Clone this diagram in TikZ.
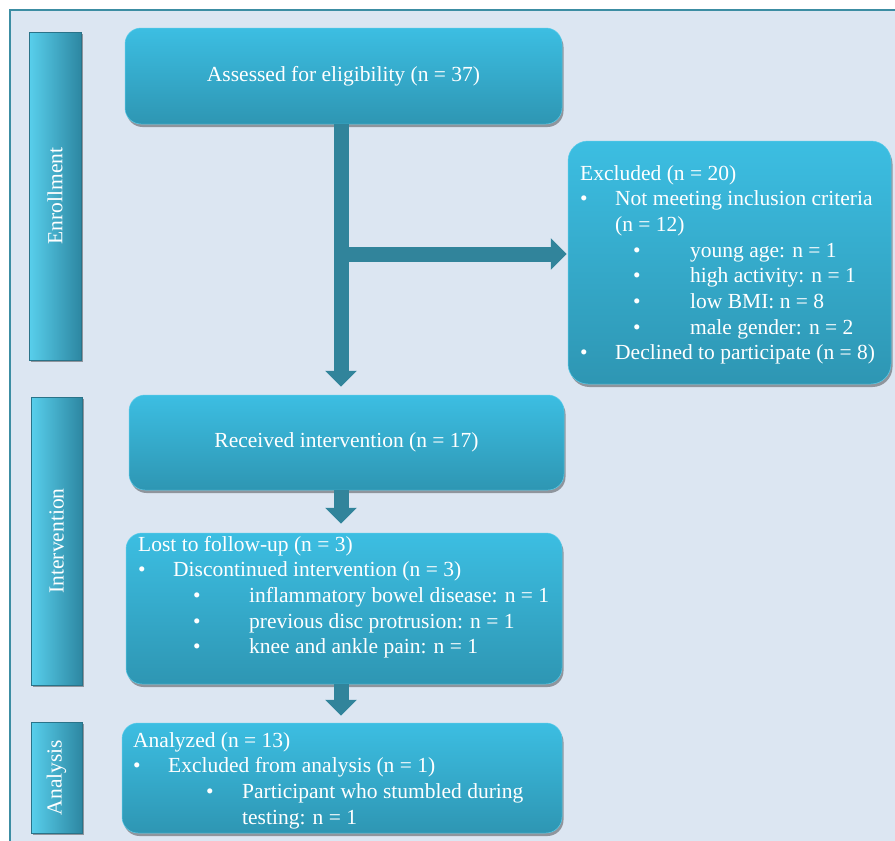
\documentclass[tikz,border=0pt]{standalone}
\usepackage{fontspec}
\setmainfont{Liberation Serif}
\usetikzlibrary{arrows.meta,shadows}
\definecolor{bgc}{HTML}{DCE6F2}
\definecolor{framec}{HTML}{3C8DA3}
\definecolor{boxtop}{HTML}{3CBEE2}
\definecolor{boxbot}{HTML}{2E96B3}
\definecolor{boxedge}{HTML}{5ACCEA}
\definecolor{arrowc}{HTML}{31849B}
\definecolor{phlight}{HTML}{58CFEC}
\definecolor{phmid}{HTML}{38AED0}
\definecolor{phdark}{HTML}{2D87A2}
\definecolor{phedge}{HTML}{2A7389}
\newcommand{\mainfs}{\fontsize{21.5}{25.7}\selectfont}
\newcommand{\bul}[2]{\hspace*{#1}\makebox[#2][l]{\textbullet}}
\tikzset{
  flowbox/.style={rectangle, rounded corners=16pt, top color=boxtop, bottom color=boxbot,
    draw=boxedge, line width=0.5pt, inner sep=0pt, text=white, font=\mainfs,
    drop shadow={shadow xshift=1.5pt, shadow yshift=-3pt, opacity=0.35, fill=black}},
  phasebar/.style={rectangle, left color=phlight, middle color=phmid, right color=phdark,
    draw=phedge, line width=0.6pt, inner sep=0pt,
    drop shadow={shadow xshift=1.5pt, shadow yshift=-2pt, opacity=0.35, fill=black}},
  phasetext/.style={rotate=90, text=white, font=\mainfs, inner sep=0pt},
  boxtext/.style={anchor=base west, inner sep=0pt, text=white, font=\mainfs},
  bigarrow/.style={draw=arrowc, line width=15pt, -{Triangle[width=31pt,length=16pt]}},
}
\begin{document}
\begin{tikzpicture}[x=1pt,y=-1pt]
\useasboundingbox (0,0) rectangle (895,841);
\fill[white] (0,0) rectangle (895,841);
\fill[bgc] (10,10) rectangle (895,841);
\draw[framec, line width=2pt] (10,841) -- (10,10) -- (895,10);

% phase bars
\node[phasebar, minimum width=52pt, minimum height=328pt] (enr) at (55,196) {};
\node[phasetext] (enrt) at (enr.center) {Enrollment};
\node[phasebar, minimum width=51pt, minimum height=288pt] (int) at (56.5,541) {};
\node[phasetext] (intt) at (int.center) {Intervention};
\node[phasebar, minimum width=51pt, minimum height=111pt] (ana) at (56.5,777.5) {};
\node[phasetext] (anat) at (ana.center) {Analysis};

% boxes
\node[flowbox, minimum width=437pt, minimum height=96pt] (assess) at (343.5,76) {Assessed for eligibility (n = 37)};
\node[flowbox, rounded corners=20pt, minimum width=323pt, minimum height=243pt] (excl) at (729.5,262.5) {};
\node[flowbox, minimum width=435pt, minimum height=95pt] (recv) at (346.5,442.5) {Received intervention (n = 17)};
\node[flowbox, minimum width=436pt, minimum height=151pt] (lost) at (344,608.5) {};
\node[flowbox, minimum width=440pt, minimum height=110pt] (anal) at (342,778) {};

% box texts
\node[boxtext] (exclt) at (580,180) {\begin{tabular}[t]{@{}l@{}}
Excluded (n = 20)\\
\bul{0pt}{35pt}Not meeting inclusion criteria\\
\hspace*{35pt}(n = 12)\\
\bul{53pt}{57pt}young age: n = 1\\
\bul{53pt}{57pt}high activity: n = 1\\
\bul{53pt}{57pt}low BMI: n = 8\\
\bul{53pt}{57pt}male gender: n = 2\\
\bul{0pt}{35pt}Declined to participate (n = 8)
\end{tabular}};
\node[boxtext] (lostt) at (138,551) {\begin{tabular}[t]{@{}l@{}}
Lost to follow-up (n = 3)\\
\bul{0pt}{35pt}Discontinued intervention (n = 3)\\
\bul{55pt}{56pt}inflammatory bowel disease: n = 1\\
\bul{55pt}{56pt}previous disc protrusion: n = 1\\
\bul{55pt}{56pt}knee and ankle pain: n = 1
\end{tabular}};
\node[boxtext] (analt) at (133,747) {\begin{tabular}[t]{@{}l@{}}
Analyzed (n = 13)\\
\bul{0pt}{35pt}Excluded from analysis (n = 1)\\
\bul{73pt}{36pt}Participant who stumbled during\\
\hspace*{109pt}testing: n = 1
\end{tabular}};

% arrows
\coordinate (spine) at (341,0);
\coordinate (br) at (341,254);
\draw[bigarrow, shorten >=8pt] (assess.south -| spine) -- (recv.north -| spine);
\draw[bigarrow, shorten >=1pt] (br) -- (br -| excl.west);
\draw[bigarrow, shorten >=9pt] (recv.south -| spine) -- (lost.north -| spine);
\draw[bigarrow, shorten >=7pt] (lost.south -| spine) -- (anal.north -| spine);
\end{tikzpicture}
\end{document}
